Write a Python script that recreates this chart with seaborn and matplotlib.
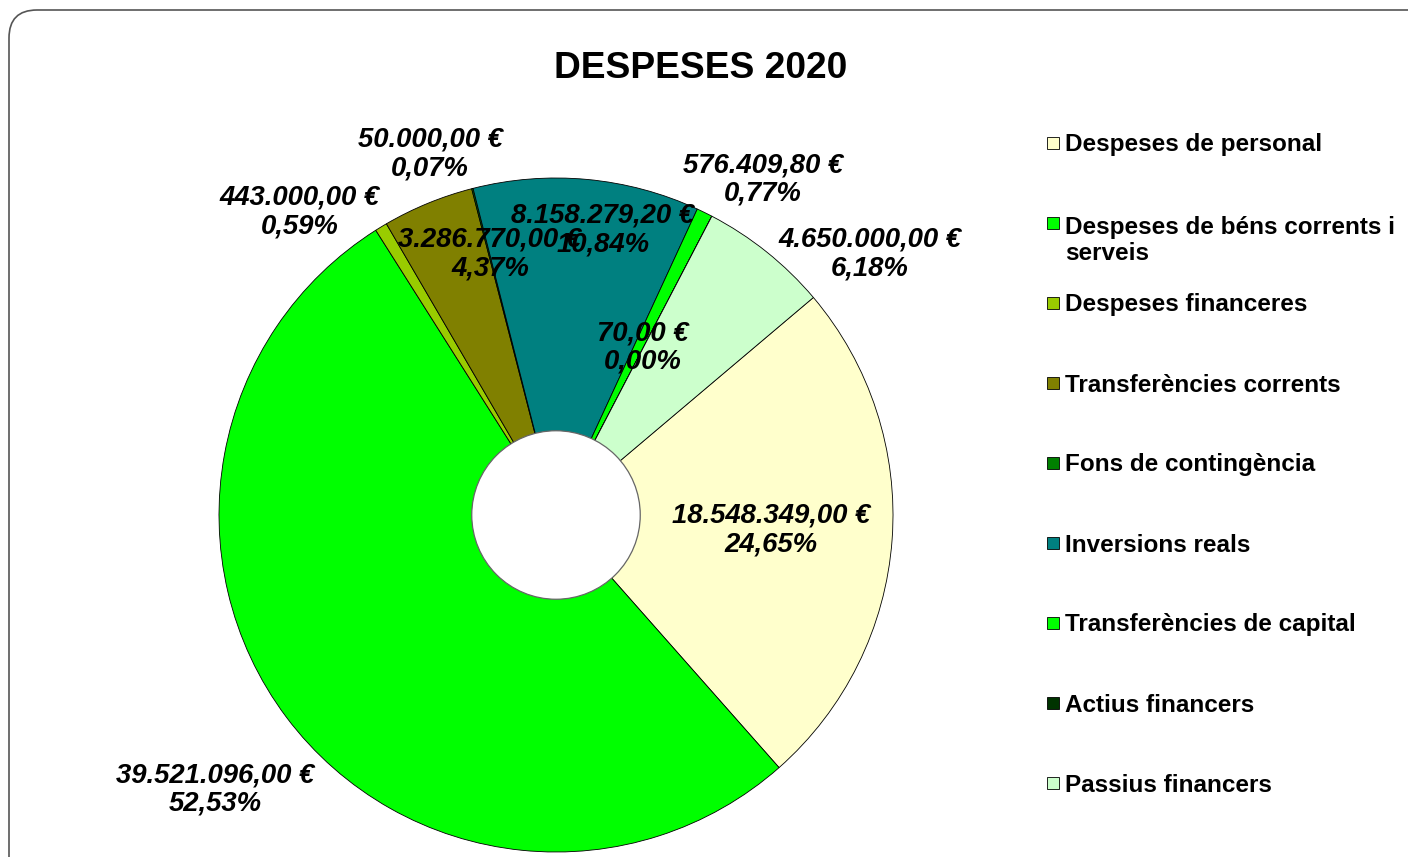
import numpy as np
import matplotlib
matplotlib.use("Agg")
import matplotlib.pyplot as plt
from matplotlib.patches import Circle, Rectangle, FancyBboxPatch
import seaborn as sns

# ---------------- data ----------------
categories = [
    "Despeses de personal",
    "Despeses de béns corrents i\nserveis",
    "Despeses financeres",
    "Transferències corrents",
    "Fons de contingència",
    "Inversions reals",
    "Transferències de capital",
    "Actius financers",
    "Passius financers",
]
values = [18548349.00, 39521096.00, 443000.00, 3286770.00, 50000.00,
          8158279.20, 576409.80, 70.00, 4650000.00]
colors = ["#FFFFCC", "#00FF00", "#99CC00", "#808000", "#008000",
          "#008080", "#00FF00", "#003300", "#CCFFCC"]
title = "DESPESES 2020"

# label positions (pie-radius units, relative to pie centre)
label_pos = [(0.638, -0.045), (-1.012, -0.815), (-0.760, 0.900),
             (-0.196, 0.775), (-0.374, 1.072), (0.139, 0.845),
             (0.614, 0.995), (0.258, 0.497), (0.932, 0.775)]

# ---------------- style ----------------
sns.set_theme(style="white")
plt.rcParams['font.family'] = ['Liberation Sans', 'DejaVu Sans']

W, H = 1408, 857
fig = plt.figure(figsize=(W / 100, H / 100), dpi=100)
fig.patch.set_facecolor("white")

# rounded frame
frame = FancyBboxPatch((9, -40), W + 40, H - 10 + 40,
                       boxstyle="round,pad=0,rounding_size=28",
                       transform=None, fc="white", ec="#555555", lw=1.2,
                       zorder=-5)
fig.patches.append(frame)

# pie axes: centre at (556, 515) px, radius 337 px
cx, cy, R = 556, 515, 337
ax = fig.add_axes([0, 0, 1, 1], zorder=2)
ax.patch.set_alpha(0)

total = sum(values)
start = 40.2

ax.pie(values, colors=colors, startangle=start, counterclock=False,
       radius=1.0, center=(0, 0), frame=True,
       wedgeprops=dict(edgecolor="black", linewidth=0.6))
ax.set_xlim(-cx / R, (W - cx) / R)
ax.set_ylim(-(H - cy) / R, cy / R)
ax.set_aspect("auto")
ax.axis("off")
ax.add_patch(Circle((0, 0), 0.25, fc="white", ec="#666666", lw=0.9, zorder=5))


def fmt_eur(v):
    s = f"{v:,.2f}"
    s = s.replace(",", "X").replace(".", ",").replace("X", ".")
    return s + " €"


def fmt_pct(v):
    return f"{v * 100:.2f}".replace(".", ",") + "%"


for v, (lx, ly) in zip(values, label_pos):
    ax.text(lx, ly, fmt_eur(v) + "\n" + fmt_pct(v / total),
            ha="center", va="center", fontsize=19.8, fontweight="bold",
            fontstyle="italic", color="black", zorder=10, linespacing=1.13)

# title
fig.text(701 / W, 1 - 68 / H, title, ha="center", va="center",
         fontsize=26.7, fontweight="bold", color="black", zorder=3)

# legend (manual)
line_h = 29.0
for i, (lab, col) in enumerate(zip(categories, colors)):
    yc = 143 + 80 * i
    nlines = lab.count("\n") + 1
    fig.patches.append(Rectangle((1047, H - yc - 6), 12, 12, transform=None,
                                 fc=col, ec="black", lw=0.6, zorder=3))
    fig.text(1065 / W, 1 - (yc + 8.5 + (nlines - 1) * line_h) / H, lab,
             ha="left", va="baseline",
             fontsize=17.5, fontweight="bold", color="black",
             linespacing=1.2, zorder=3)

fig.savefig("out.png", dpi=100)
